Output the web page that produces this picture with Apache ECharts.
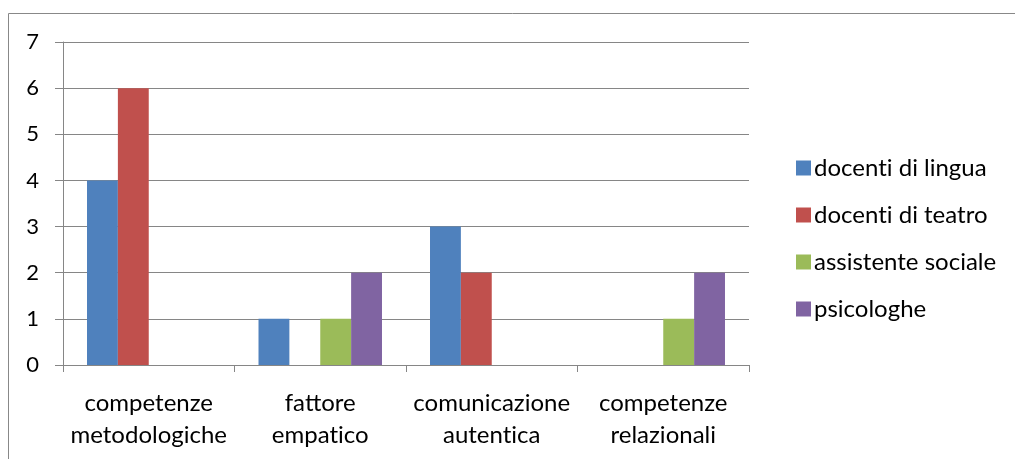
<!DOCTYPE html>
<html>
<head>
<meta charset="utf-8">
<script src="https://cdn.jsdelivr.net/npm/echarts@6/dist/echarts.min.js"></script>
<style>
  html, body { margin: 0; padding: 0; background: #fff; }
  #chart { width: 1015px; height: 459px; }
</style>
</head>
<body>
<div id="chart"></div>
<script>
// Categories and series counts
const categories = ['competenze\nmetodologiche', 'fattore\nempatico', 'comunicazione\nautentica', 'competenze\nrelazionali'];
const docentiLingua = [4, 1, 3, 0];
const docentiTeatro = [6, 0, 2, 0];
const assistenteSociale = [0, 1, 0, 1];
const psicologhe = [0, 2, 0, 2];
const seriesNames = ['docenti di lingua', 'docenti di teatro', 'assistente sociale', 'psicologhe'];
const seriesColors = ['#4F81BD', '#C0504D', '#9BBB59', '#8064A2'];

const FONT = 'Lato, "Open Sans", sans-serif';
const chart = echarts.init(document.getElementById('chart'), null, { renderer: 'canvas' });

const allValues = [docentiLingua, docentiTeatro, assistenteSociale, psicologhe];

// keep "t" and "i" as separate glyphs (no ligature)
const noLig = (s) => s.replace(/ti/g, 't\u200Ci');

chart.setOption({
  animation: false,
  textStyle: { fontFamily: FONT },
  graphic: [{
    type: 'rect',
    shape: { x: 8.5, y: 13.5, width: 1100, height: 600 },
    style: { fill: 'none', stroke: '#888', lineWidth: 1 },
    silent: true
  }],
  grid: { left: 63, right: 266, top: 42, bottom: 94 },
  legend: {
    orient: 'vertical',
    left: 791,
    top: 151,
    itemWidth: 15,
    itemHeight: 15,
    itemGap: 23,
    icon: 'rect',
    formatter: noLig,
    textStyle: { fontSize: 24, color: '#000', fontFamily: FONT, padding: [0, 0, 0, -2] },
    data: seriesNames
  },
  xAxis: {
    type: 'category',
    data: categories,
    axisLine: { show: true, lineStyle: { color: '#868686', width: 1 } },
    axisTick: { show: true, interval: 0, length: 7, lineStyle: { color: '#868686' } },
    axisLabel: { interval: 0, fontSize: 24, color: '#000', lineHeight: 32, margin: 22, fontFamily: FONT, formatter: noLig }
  },
  yAxis: {
    type: 'value',
    min: 0,
    max: 7,
    interval: 1,
    axisLine: { show: true, lineStyle: { color: '#868686', width: 1 } },
    axisTick: { show: true, length: 8, lineStyle: { color: '#868686' } },
    splitLine: { show: true, lineStyle: { color: '#868686', width: 1 } },
    axisLabel: { fontSize: 22, color: '#000', margin: 24, fontFamily: FONT }
  },
  series: seriesNames.map((name, i) => ({
    name: name,
    type: 'bar',
    data: allValues[i],
    barGap: '0%',
    barCategoryGap: '28%',
    itemStyle: { color: seriesColors[i] }
  }))
});
</script>
</body>
</html>
